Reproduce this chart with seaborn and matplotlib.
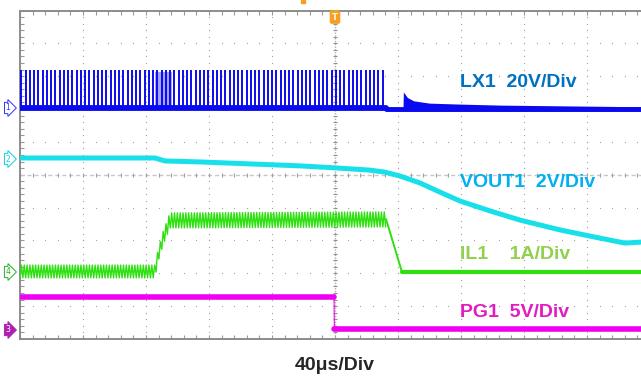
import numpy as np
import seaborn as sns
import matplotlib.pyplot as plt
from matplotlib.patches import Rectangle

# time in us (40 us/div, 10 div); traces in screen divisions (0 = bottom, 10 = top)
SW_PERIOD_US = 2.7
RIPPLE_PERIOD_US = 1.8

LX1_PULSE_START = 0.8
LX1_PULSE_END = 232.0
LX1_BASE = 7.03
LX1_TOP = 8.19
LX1_DENSE_SPAN = (85.7, 96.5)
LX1_RING_T = [232.4, 243.2, 243.4, 246.0, 250.0, 260.0, 280.0, 305.0, 340.0, 394.3]
LX1_RING_UPPER = [7.03, 7.03, 7.52, 7.35, 7.25, 7.18, 7.15, 7.12, 7.10, 7.07]
LX1_RING_LOWER = 6.94

VOUT1_T = [0, 85.7, 92.1, 114.3, 146.0, 177.8, 200.0, 222.2, 231.7, 241.3,
           254.0, 266.7, 279.4, 298.4, 317.5, 342.9, 368.3, 384.1, 394.3]
VOUT1_V = [5.51, 5.51, 5.42, 5.39, 5.33, 5.27, 5.21, 5.14, 5.08, 4.96,
           4.75, 4.47, 4.20, 3.90, 3.62, 3.32, 3.07, 2.92, 2.95]

IL1_ENV_T = [0, 85.7, 87.6, 90.8, 95.2, 232.4]
IL1_ENV_UPPER = [2.25, 2.25, 2.71, 3.26, 3.84, 3.87]
IL1_ENV_LOWER = [1.86, 1.86, 2.34, 2.86, 3.38, 3.41]
IL1_TAIL_T = [232.4, 242.5, 394.3]
IL1_TAIL_I = [3.65, 2.04, 2.04]

PG1_HIGH_T = [0, 199.4]
PG1_HIGH = 1.28
PG1_LOW_T = [199.6, 394.3]
PG1_LOW = 0.30

LABELS = ["LX1  20V/Div", "VOUT1  2V/Div", "IL1    1A/Div", "PG1  5V/Div"]
LABEL_Y = [7.82, 4.75, 2.56, 0.82]
LABEL_COLORS = ["#0070c0", "#00b0f0", "#92d050", "#e21cc0"]

C_LX1 = "#0a0af0"
C_VOUT = "#18e0ea"
C_IL1 = "#2ee010"
C_PG1 = "#f000f0"

W, H = 641, 379
sns.set_style("white")
fig = plt.figure(figsize=(W / 100, H / 100), dpi=100)
ax = fig.add_axes([20 / W, (H - 339) / H, 630 / W, 328.5 / H])
ax.set_xlim(0, 400)
ax.set_ylim(0, 10)

# graticule
gx, gy = np.meshgrid(np.arange(0, 401, 8), [1, 2, 3, 4, 6, 7, 8, 9])
ax.scatter(gx.ravel(), gy.ravel(), s=0.8, color="#a0a0a0", lw=0, zorder=1)
gx, gy = np.meshgrid([40, 80, 120, 160, 240, 280, 320, 360], np.arange(0, 10.01, 0.2))
ax.scatter(gx.ravel(), gy.ravel(), s=0.8, color="#a0a0a0", lw=0, zorder=1)
ax.axhline(5, color="#c8c8c8", lw=1, ls=(0, (3, 2)), zorder=1)
ax.axvline(200, color="#b0b0b0", lw=1, ls=(0, (1, 1)), zorder=1)
ax.scatter(np.arange(0, 401, 8), np.full(51, 5), marker="|", s=12, color="#a0a0a0", lw=0.8, zorder=1)
ax.scatter(np.full(51, 200), np.arange(0, 10.01, 0.2), marker="_", s=12, color="#909090", lw=0.8, zorder=1)

for side in ["left", "bottom", "top"]:
    ax.spines[side].set_color("#8c8c8c")
    ax.spines[side].set_linewidth(1.4)
ax.spines["right"].set_visible(False)
ax.set_xticks(np.arange(0, 401, 40))
ax.set_xticks(np.arange(0, 401, 8), minor=True)
ax.set_yticks(np.arange(0, 11, 1))
ax.set_yticks(np.arange(0, 10.01, 0.2), minor=True)
ax.tick_params(which="both", direction="in", length=3, color="#999999", width=0.8,
               top=True, left=True, bottom=True, labelleft=False, labelbottom=False)

# LX1: switching pulses, dense patch, baseline and ringing after switching stops
pulse_t = np.arange(LX1_PULSE_START, LX1_PULSE_END, SW_PERIOD_US)
ax.axvspan(*LX1_DENSE_SPAN, ymin=LX1_BASE / 10, ymax=(LX1_TOP - 0.05) / 10,
           color="#a4a4ff", lw=0, zorder=2)
ax.vlines(pulse_t, LX1_BASE, LX1_TOP, color=C_LX1, lw=1.4, zorder=3)
sns.lineplot(x=[0, LX1_RING_T[0]], y=[LX1_BASE, LX1_BASE], ax=ax, color=C_LX1, lw=4.2, zorder=3)
ax.fill_between(LX1_RING_T, LX1_RING_LOWER, LX1_RING_UPPER, color=C_LX1, lw=0, zorder=3)
sns.lineplot(x=[LX1_RING_T[0], LX1_RING_T[-1]], y=[LX1_BASE - 0.02, LX1_BASE - 0.02],
             ax=ax, color=C_LX1, lw=3.5, zorder=3)

# VOUT1
sns.lineplot(x=VOUT1_T, y=VOUT1_V, ax=ax, color=C_VOUT, lw=3.6, zorder=4)

# IL1: ripple between envelopes, then ramp down to zero
half = RIPPLE_PERIOD_US / 2
zt = np.arange(0, IL1_ENV_T[-1], half)
up = np.interp(zt, IL1_ENV_T, IL1_ENV_UPPER)
lo = np.interp(zt, IL1_ENV_T, IL1_ENV_LOWER)
zv = np.where(np.arange(len(zt)) % 2 == 0, lo, up)
sns.lineplot(x=zt, y=zv, ax=ax, color=C_IL1, lw=1.0, sort=False, estimator=None, zorder=4)
sns.lineplot(x=IL1_TAIL_T[:2], y=IL1_TAIL_I[:2], ax=ax, color=C_IL1, lw=1.4, zorder=4)
sns.lineplot(x=IL1_TAIL_T[1:], y=IL1_TAIL_I[1:], ax=ax, color=C_IL1, lw=3.0, zorder=4)

# PG1
sns.lineplot(x=PG1_HIGH_T, y=[PG1_HIGH] * 2, ax=ax, color=C_PG1, lw=4.0, zorder=4)
sns.lineplot(x=PG1_LOW_T, y=[PG1_LOW] * 2, ax=ax, color=C_PG1, lw=4.0, zorder=4)
sns.lineplot(x=[PG1_HIGH_T[1], PG1_LOW_T[0]], y=[PG1_HIGH, PG1_LOW], ax=ax,
             color=C_PG1, lw=0.8, zorder=4)

for text, y, c in zip(LABELS, LABEL_Y, LABEL_COLORS):
    ax.text(279.4, y, text, color=c, fontsize=14, fontweight="bold",
            family="Liberation Sans", va="center", ha="left", zorder=6)

fig.text(335 / W, 1 - 366 / H, "40μs/Div", fontsize=14, fontweight="bold",
         family="Liberation Sans", ha="center", va="center")

# channel markers
for num, ypx, c, filled in [("1", 108, "#3030ff", False), ("2", 159, "#10d0e0", False),
                            ("4", 272, "#20b020", False), ("3", 330, "#b020b0", True)]:
    fig.text(8 / W, 1 - ypx / H, num, fontsize=5.5, ha="center", va="center",
             color="white" if filled else c,
             bbox=dict(boxstyle="rarrow,pad=0.15", fc=c if filled else "white", ec=c, lw=0.7))

# trigger marker
fig.text(335 / W, 1 - 17 / H, "T", fontsize=6, fontweight="bold", color="white",
         ha="center", va="center",
         bbox=dict(boxstyle="round,pad=0.2", fc="#f5a020", ec="#f5a020"))
fig.patches.append(Rectangle((301 / W, 1 - 3 / H), 4 / W, 3 / H, color="#f5a020",
                             transform=fig.transFigure, figure=fig))

fig.savefig("out.png", dpi=100)
